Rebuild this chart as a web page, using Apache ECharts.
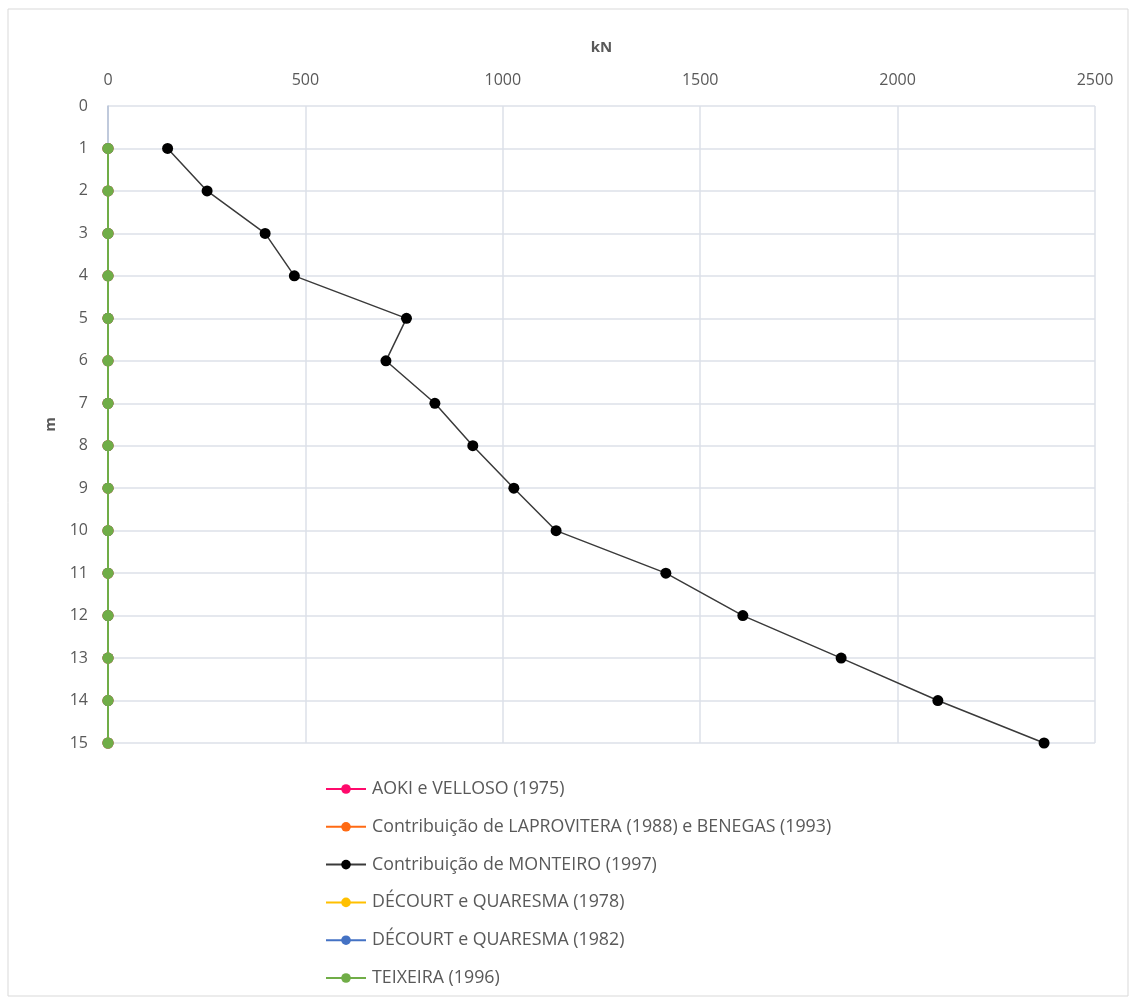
<!DOCTYPE html>
<html>
<head>
<meta charset="utf-8">
<script src="https://cdn.jsdelivr.net/npm/echarts@6/dist/echarts.min.js"></script>
<style>
  html, body { margin: 0; padding: 0; background: #ffffff; }
  #chart { width: 1131px; height: 999px; }
</style>
</head>
<body>
<div id="chart"></div>
<script>
// Depth (m) of each reading
const depths = [1, 2, 3, 4, 5, 6, 7, 8, 9, 10, 11, 12, 13, 14, 15];

// Capacity per method (kN)
const aokiVelloso = [0, 0, 0, 0, 0, 0, 0, 0, 0, 0, 0, 0, 0, 0, 0];
const laprovitera = [0, 0, 0, 0, 0, 0, 0, 0, 0, 0, 0, 0, 0, 0, 0];
const monteiro = [151, 251, 398, 472, 756, 704, 828, 924, 1028, 1135, 1413, 1608, 1857, 2102, 2371];
const decourt1978 = [0, 0, 0, 0, 0, 0, 0, 0, 0, 0, 0, 0, 0, 0, 0];
const decourt1982 = [0, 0, 0, 0, 0, 0, 0, 0, 0, 0, 0, 0, 0, 0, 0];
const teixeira = [0, 0, 0, 0, 0, 0, 0, 0, 0, 0, 0, 0, 0, 0, 0];

const seriesNames = [
  'AOKI e VELLOSO (1975)',
  'Contribuição de LAPROVITERA (1988) e BENEGAS (1993)',
  'Contribuição de MONTEIRO (1997)',
  'DÉCOURT e QUARESMA (1978)',
  'DÉCOURT e QUARESMA (1982)',
  'TEIXEIRA (1996)'
];
const seriesValues = [aokiVelloso, laprovitera, monteiro, decourt1978, decourt1982, teixeira];
const seriesColors = ['#ff0a6c', '#ff6a13', '#000000', '#ffc000', '#4472c4', '#70ad47'];
const lineColors = ['#ff0a6c', '#ff6a13', '#3a3a3a', '#ffc000', '#4472c4', '#70ad47'];

const FONT = '"Open Sans", "Noto Sans", sans-serif';
const TEXT = '#595959';

const chart = echarts.init(document.getElementById('chart'));

const series = seriesNames.map((name, i) => ({
  name: name,
  type: 'line',
  data: depths.map((d, k) => [seriesValues[i][k], d]),
  symbol: 'circle',
  symbolSize: 11,
  showSymbol: true,
  animation: false,
  z: i === 2 ? 5 : 3 + i * 0.1,
  itemStyle: { color: seriesColors[i], borderWidth: 0 },
  lineStyle: { color: lineColors[i], width: i === 2 ? 1.5 : 2 }
}));

chart.setOption({
  animation: false,
  textStyle: { fontFamily: FONT },
  graphic: [{
    type: 'rect',
    shape: { x: 8, y: 9, width: 1120, height: 987 },
    style: { fill: 'none', stroke: '#d9d9d9', lineWidth: 1 },
    silent: true
  }],
  grid: { left: 108, right: 36, top: 106, bottom: 256 },
  xAxis: {
    type: 'value',
    position: 'top',
    min: 0,
    max: 2500,
    interval: 500,
    name: 'kN',
    nameLocation: 'middle',
    nameGap: 51,
    nameTextStyle: { color: TEXT, fontWeight: 'bold', fontSize: 15, fontFamily: FONT },
    axisLine: { show: false },
    axisTick: { show: false },
    axisLabel: { color: TEXT, fontSize: 16, margin: 18, fontFamily: FONT, formatter: v => String(v) },
    splitLine: { show: true, lineStyle: { color: '#dde1e8', width: 1.5 } }
  },
  yAxis: {
    type: 'value',
    inverse: true,
    min: 0,
    max: 15,
    interval: 1,
    name: 'm',
    nameLocation: 'middle',
    nameGap: 50,
    nameRotate: 90,
    nameTextStyle: { color: TEXT, fontWeight: 'bold', fontSize: 15, fontFamily: FONT },
    axisLine: { show: true, onZero: false, lineStyle: { color: '#b4c1d6', width: 1.5 } },
    axisTick: { show: false },
    axisLabel: { color: TEXT, fontSize: 16, margin: 20, fontFamily: FONT },
    splitLine: { show: true, lineStyle: { color: '#dde1e8', width: 1.5 } }
  },
  legend: {
    orient: 'vertical',
    left: 320,
    top: 775,
    itemGap: 19.8,
    itemWidth: 40,
    itemHeight: 12,
    textStyle: { color: TEXT, fontSize: 17.8, fontFamily: FONT, padding: [0, 0, 0, 1] },
    data: seriesNames
  },
  series: series
});
</script>
</body>
</html>
